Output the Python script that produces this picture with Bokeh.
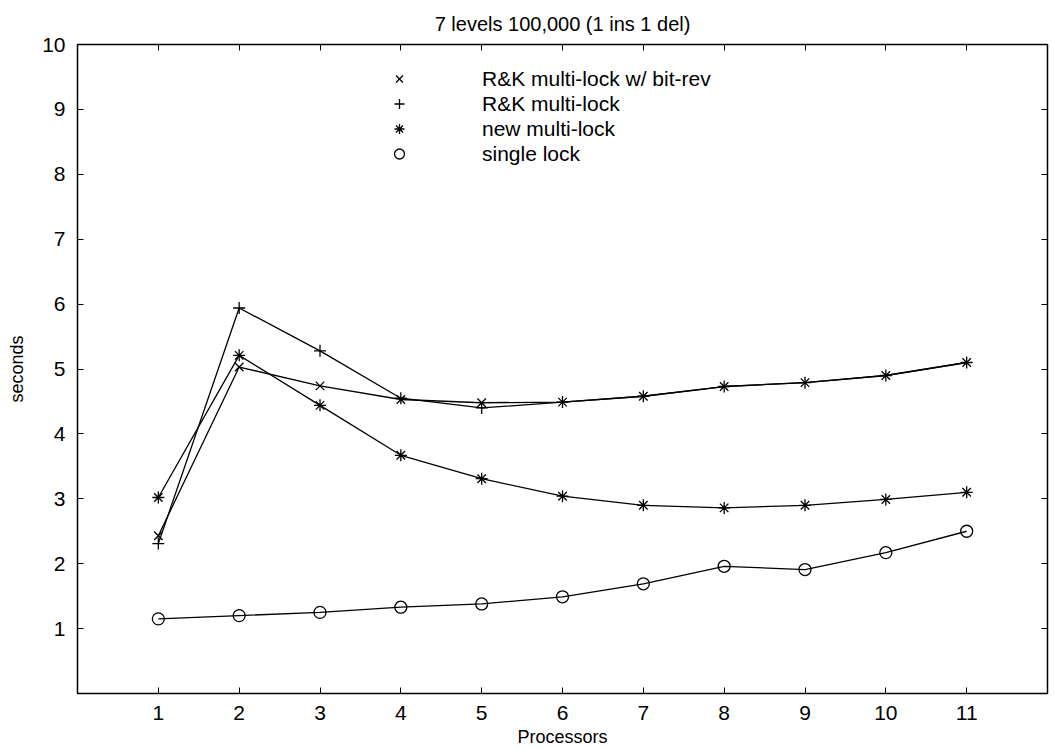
from bokeh.plotting import figure
from bokeh.models import LinearAxis, FixedTicker, Legend, LegendItem, Range1d
from bokeh.embed import file_html
from bokeh.resources import INLINE

processors = [1, 2, 3, 4, 5, 6, 7, 8, 9, 10, 11]
rk_bitrev = [2.43, 5.03, 4.74, 4.53, 4.48, 4.49, 4.58, 4.73, 4.79, 4.90, 5.10]
rk_multi = [2.31, 5.94, 5.28, 4.55, 4.40, 4.49, 4.58, 4.73, 4.79, 4.90, 5.10]
new_multi = [3.02, 5.21, 4.44, 3.67, 3.31, 3.04, 2.90, 2.86, 2.90, 2.99, 3.10]
single = [1.15, 1.20, 1.25, 1.33, 1.38, 1.49, 1.69, 1.96, 1.91, 2.17, 2.50]
x_ticks = [1, 2, 3, 4, 5, 6, 7, 8, 9, 10, 11]
y_ticks = [1, 2, 3, 4, 5, 6, 7, 8, 9, 10]

FONT = "Liberation Sans"

p = figure(width=1054, height=750, output_backend="svg", toolbar_location=None,
           x_range=Range1d(0, 12), y_range=Range1d(0, 10),
           min_border_left=77, min_border_right=7, min_border_top=44, min_border_bottom=57,
           title="7 levels 100,000 (1 ins 1 del)")
p.title.align = "center"
p.title.text_font = FONT
p.title.text_font_size = "20px"
p.title.text_font_style = "normal"
p.title.text_color = "black"
p.title.standoff = 20
p.outline_line_color = "black"
p.outline_line_width = 1.5
p.grid.visible = False
p.background_fill_color = "white"
p.border_fill_color = "white"

for ax, ticks in ((p.xaxis[0], x_ticks), (p.yaxis[0], y_ticks)):
    ax.ticker = FixedTicker(ticks=ticks)
    ax.major_tick_in = 6
    ax.major_tick_out = 0
    ax.minor_tick_line_color = None
    ax.axis_line_color = "black"
    ax.major_tick_line_color = "black"
    ax.major_label_text_font = FONT
    ax.major_label_text_font_size = "21px"
    ax.major_label_text_color = "black"
    ax.major_label_standoff = 12
    ax.axis_label_text_font = FONT
    ax.axis_label_text_font_size = "18px"
    ax.axis_label_text_font_style = "normal"
    ax.axis_label_text_color = "black"
    ax.axis_label_standoff = 4
p.xaxis.axis_label = "Processors"
p.yaxis.axis_label = "seconds"
p.yaxis.axis_label_standoff = 12

for loc, ticks in (("above", x_ticks), ("right", y_ticks)):
    ax = LinearAxis(ticker=FixedTicker(ticks=ticks), major_tick_in=6, major_tick_out=0,
                    minor_tick_line_color=None, axis_line_color="black",
                    major_label_text_font_size="0px", major_label_standoff=0)
    p.add_layout(ax, loc)

series = [
    ("R&K multi-lock w/ bit-rev", rk_bitrev, "x"),
    ("R&K multi-lock", rk_multi, "cross"),
    ("new multi-lock", new_multi, "asterisk"),
    ("single lock", single, "circle"),
]
items = []
for label, ys, marker in series:
    p.line(processors, ys, line_color="black", line_width=1.3)
    r = p.scatter(processors, ys, marker=marker, size=12, line_color="black",
                  fill_color=None, line_width=1.3)
    items.append(LegendItem(label=label, renderers=[r]))

legend = Legend(items=items, location=(306, 527), border_line_color=None,
                background_fill_alpha=0, padding=0, margin=0, spacing=0,
                glyph_width=32, glyph_height=25, label_standoff=67, label_height=25,
                label_text_font=FONT, label_text_font_size="21px",
                label_text_color="black")
p.add_layout(legend, "center")

open("out.html", "w").write(file_html(p, INLINE))
